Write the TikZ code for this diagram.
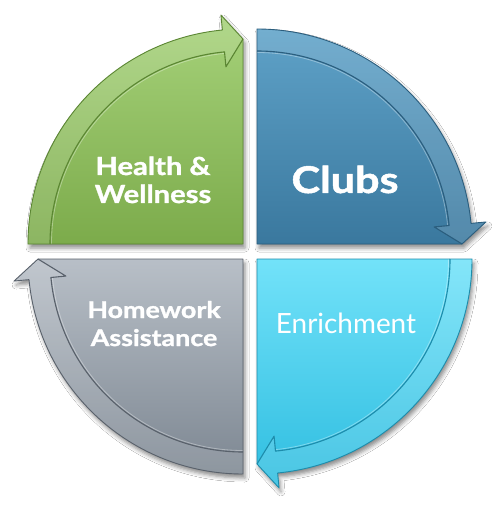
\documentclass[tikz,border=0pt]{standalone}
\usepackage{fontspec}
\setmainfont{Lato}
\newfontfamily\boldlbl[FakeStretch=1.17, BoldFeatures={FakeBold=1.3}]{Lato}
\usetikzlibrary{shadows.blur}
\definecolor{gtop}{HTML}{A6D27A}
\definecolor{gbot}{HTML}{7CAB4B}
\definecolor{gedge}{HTML}{5B8633}
\definecolor{btop}{HTML}{5FA2C8}
\definecolor{bbot}{HTML}{3A789E}
\definecolor{bedge}{HTML}{2B5E7E}
\definecolor{ctop}{HTML}{72E2F9}
\definecolor{cbot}{HTML}{2EBDE0}
\definecolor{cedge}{HTML}{1D8CAB}
\definecolor{ytop}{HTML}{B8BFC7}
\definecolor{ybot}{HTML}{7D8792}
\definecolor{yedge}{HTML}{59616B}
\newcommand\Ro{215}
\newcommand\Rin{193}
\newcommand\Rb{230}
\newcommand\Rs{178}
\newcommand\Rt{205}
\newcommand\Dl{84.5}
% #1 corner, #2 start angle, #3 colour prefix
\newcommand\quadpiece[3]{%
\begin{scope}[shift={#1}]
  \path[blur shadow={shadow xshift=2bp,shadow yshift=-4bp,shadow opacity=45,shadow blur radius=4bp}]
    (0,0) -- (#2:\Ro) arc[start angle=#2, delta angle=\Dl, radius=\Ro]
    -- (#2+\Dl:\Rb) -- (#2+90:\Rt) -- cycle;
  \shade[top color=#3top, bottom color=#3bot]
    (0,0) -- (#2:\Ro) arc[start angle=#2, delta angle=\Dl, radius=\Ro]
    -- (#2+\Dl:\Rb) -- (#2+90:\Rt) -- cycle;
  \fill[white, opacity=0.13]
    (#2:\Ro) arc[start angle=#2, delta angle=\Dl, radius=\Ro]
    -- (#2+\Dl:\Rb) -- (#2+90:\Rt) -- (#2+\Dl:\Rs) -- (#2+\Dl:\Rin)
    arc[start angle=#2+\Dl, delta angle=-\Dl, radius=\Rin] -- cycle;
  \draw[white, opacity=0.35, line width=0.8bp]
    (#2:\Rin-1.5) arc[start angle=#2, delta angle=\Dl, radius=\Rin-1.5];
  \draw[#3edge, line width=1.1bp, line join=round]
    (#2:\Rin) arc[start angle=#2, delta angle=\Dl, radius=\Rin]
    -- (#2+\Dl:\Rs) -- (#2+90:\Rt);
  \draw[#3edge, line width=0.9bp, line join=round]
    (0,0) -- (#2:\Ro) arc[start angle=#2, delta angle=\Dl, radius=\Ro]
    -- (#2+\Dl:\Rb) -- (#2+90:\Rt) -- cycle;
\end{scope}}
\tikzset{
  lblbold/.style={text=white, inner sep=0pt, anchor=base, font=\boldlbl\bfseries\fontsize{25}{30}\selectfont},
  lblbig/.style={text=white, inner sep=0pt, anchor=base, font=\boldlbl\bfseries\fontsize{37}{42}\selectfont},
  lblreg/.style={text=white, inner sep=0pt, anchor=base, font=\fontsize{28}{32}\selectfont},
  lblhw/.style={text=white, inner sep=0pt, anchor=base, font=\boldlbl\bfseries\fontsize{23}{28}\selectfont}
}
\begin{document}
\begin{tikzpicture}[x=1bp,y=-1bp]
\fill[white] (0,0) rectangle (500,509);
\useasboundingbox (0,0) rectangle (500,509);
\quadpiece{(243,244)}{180}{g}
\quadpiece{(257,244)}{270}{b}
\quadpiece{(257,259)}{0}{c}
\quadpiece{(243,259)}{90}{y}
\node[lblbold] (hw1) at (153,175) {Health \&};
\node[lblbold] (hw2) at (153,203) {Wellness};
\node[lblbig] (clubs) at (345,193) {Clubs};
\node[lblreg] (enr) at (346,333) {Enrichment};
\node[lblhw] (hom1) at (154,318) {Homework};
\node[lblhw] (hom2) at (154,346) {Assistance};
\end{tikzpicture}
\end{document}
